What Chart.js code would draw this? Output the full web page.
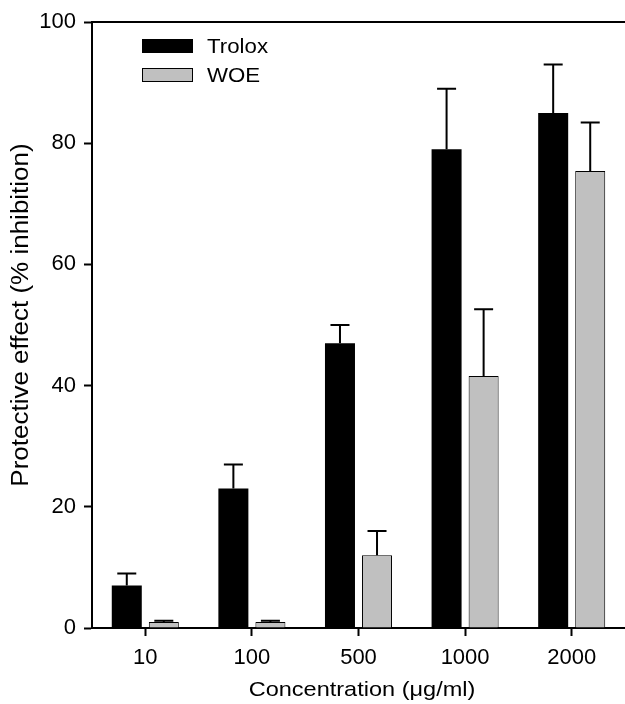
<!DOCTYPE html>
<html>
<head>
<meta charset="utf-8">
<script src="https://cdn.jsdelivr.net/npm/chart.js@4.4.0/dist/chart.umd.min.js"></script>
<style>
  html, body { margin: 0; padding: 0; background: #fff; }
  #wrap { width: 625px; height: 704px; }
</style>
</head>
<body>
<div id="wrap"><canvas id="chart" width="625" height="704"></canvas></div>
<script>
(function() {
    "use strict";

    var categories = ['10', '100', '500', '1000', '2000'];
    var trolox = [7, 23, 47, 79, 85];
    var troloxErr = [2, 4, 3, 10, 8];
    var woe = [1, 1, 12, 41.6, 75.4];
    var woeErr = [0.2, 0.2, 4, 11, 8];
    var yTicks = [0, 20, 40, 60, 80, 100];
    var xTitle = 'Concentration (\u03bcg/ml)';
    var yTitle = 'Protective effect (% inhibition)';

    var font = "'Liberation Sans', Arial, sans-serif";

    // the original lettering is a bit wider than Arial, so stretch it
    function wideText(ctx, text, x, y, size, stretch, angle) {
        ctx.save();
        ctx.translate(x, y);
        ctx.rotate(angle || 0);
        ctx.scale(stretch, 1);
        ctx.font = size + 'px ' + font;
        ctx.textAlign = 'center';
        ctx.textBaseline = 'middle';
        ctx.fillStyle = '#000';
        ctx.fillText(text, 0, 0);
        ctx.restore();
    }

    // upward-only error bars, legend in the plot, titles and the top rule
    var extras = {
        id: 'extras',
        afterDatasetsDraw: function(chart) {
            var ctx = chart.ctx;
            var y = chart.scales.y;
            var area = chart.chartArea;
            ctx.save();
            ctx.strokeStyle = '#000';
            ctx.lineWidth = 2;
            chart.data.datasets.forEach(function(ds, di) {
                var meta = chart.getDatasetMeta(di);
                meta.data.forEach(function(bar, i) {
                    var top = y.getPixelForValue(ds.data[i] + ds.errors[i]);
                    ctx.beginPath();
                    ctx.moveTo(bar.x, bar.y);
                    ctx.lineTo(bar.x, top);
                    ctx.moveTo(bar.x - 9.5, top);
                    ctx.lineTo(bar.x + 9.5, top);
                    ctx.stroke();
                });
            });

            // top line at y = 100
            ctx.beginPath();
            ctx.moveTo(area.left, area.top);
            ctx.lineTo(chart.width, area.top);
            ctx.stroke();

            // legend
            chart.data.datasets.forEach(function(ds, di) {
                var ly = 46 + di * 29;
                ctx.fillStyle = ds.backgroundColor;
                ctx.fillRect(142, ly - 7, 51, 14);
                ctx.lineWidth = 1;
                ctx.strokeStyle = '#000';
                ctx.strokeRect(142.5, ly - 6.5, 50, 13);
                ctx.font = '21px ' + font;
                ctx.textAlign = 'left';
                ctx.textBaseline = 'middle';
                ctx.save();
                ctx.translate(207, ly + 1);
                ctx.scale(1.06, 1);
                ctx.fillStyle = '#000';
                ctx.fillText(ds.label, 0, 0);
                ctx.restore();
            });
            ctx.restore();

            // axis titles
            wideText(ctx, xTitle, 362, 690, 21, 1.12, 0);
            wideText(ctx, yTitle, 22, 315, 23, 1.13, -Math.PI / 2);
        }
    };

    new Chart(document.getElementById('chart'), {
        type: 'bar',
        data: {
            labels: categories,
            datasets: [{
                label: 'Trolox',
                data: trolox,
                errors: troloxErr,
                backgroundColor: '#000000',
                borderColor: '#000000',
                borderWidth: 0,
                categoryPercentage: 0.695,
                barPercentage: 0.81
            }, {
                label: 'WOE',
                data: woe,
                errors: woeErr,
                backgroundColor: '#c0c0c0',
                borderColor: '#000000',
                borderWidth: 1,
                categoryPercentage: 0.695,
                barPercentage: 0.81
            }]
        },
        options: {
            responsive: false,
            animation: false,
            layout: { padding: { top: 22, right: 0, bottom: 0, left: 0 } },
            plugins: {
                legend: { display: false },
                tooltip: { enabled: false }
            },
            scales: {
                x: {
                    grid: {
                        display: true,
                        drawOnChartArea: false,
                        drawTicks: true,
                        offset: false,
                        tickLength: 8,
                        tickWidth: 2,
                        color: '#000'
                    },
                    border: { color: '#000', width: 2 },
                    ticks: {
                        color: '#000',
                        padding: 9,
                        font: { family: font, size: 22 }
                    },
                    afterFit: function(scale) { scale.height = 76; }
                },
                y: {
                    min: 0,
                    max: 100,
                    afterBuildTicks: function(scale) {
                        scale.ticks = yTicks.map(function(v) { return { value: v }; });
                    },
                    grid: {
                        display: true,
                        drawOnChartArea: false,
                        drawTicks: true,
                        tickLength: 8,
                        tickWidth: 2,
                        color: '#000'
                    },
                    border: { color: '#000', width: 2 },
                    ticks: {
                        color: '#000',
                        padding: 8,
                        font: { family: font, size: 22 }
                    },
                    afterFit: function(scale) { scale.width = 92; }
                }
            }
        },
        plugins: [extras]
    });
})();
</script>
</body>
</html>
